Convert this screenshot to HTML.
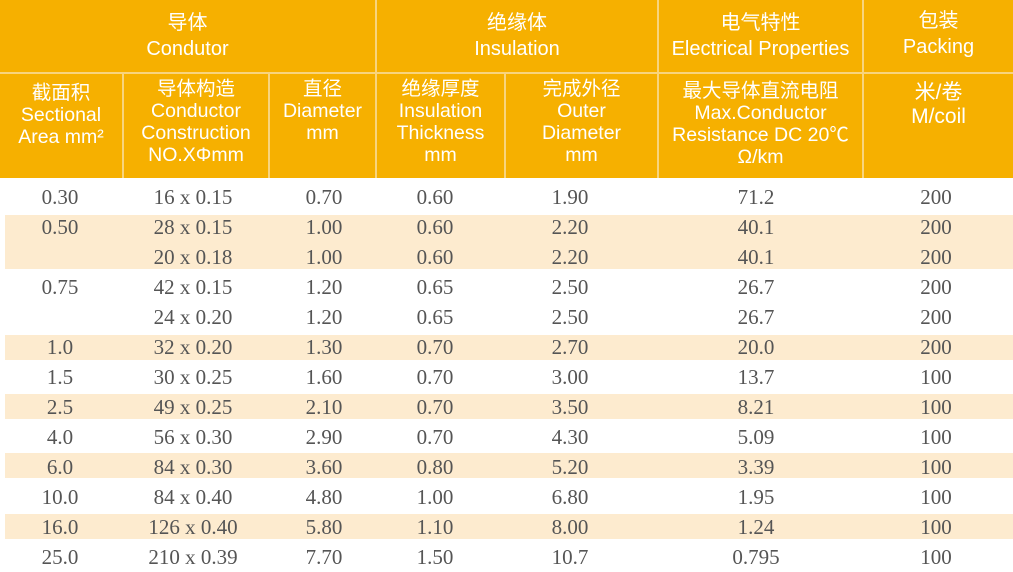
<!DOCTYPE html>
<html><head><meta charset="utf-8"><style>
html,body{margin:0;padding:0;background:#fff;}
body{width:1013px;height:571px;position:relative;overflow:hidden;}
.h{position:absolute;background:#F6B000;}
.l{position:absolute;background:#F8D47E;}
.t{position:absolute;color:#fff;font-family:"Liberation Sans","Noto Sans CJK SC",sans-serif;font-size:19.5px;text-align:center;line-height:22px;}
.band{position:absolute;left:5px;width:1008px;background:#FDEBCF;}
.d{position:absolute;font-family:"Liberation Serif","DejaVu Serif",serif;font-size:21px;color:#555;text-align:center;width:200px;line-height:30px;}
</style></head><body>
<div class="h" style="left:0;top:0;width:1013px;height:178px"></div>
<div class="l" style="left:0;top:72px;width:1013px;height:2px"></div>
<div class="l" style="left:375px;top:0;width:2px;height:178px"></div>
<div class="l" style="left:657px;top:0;width:2px;height:178px"></div>
<div class="l" style="left:862px;top:0;width:2px;height:178px"></div>
<div class="l" style="left:122px;top:72px;width:2px;height:106px"></div>
<div class="l" style="left:268px;top:72px;width:2px;height:106px"></div>
<div class="l" style="left:504px;top:72px;width:2px;height:106px"></div>

<div class="t" style="left:0;width:375px;top:10px;font-size:20px;line-height:26px">导体<br>Condutor</div>
<div class="t" style="left:377px;width:280px;top:10px;font-size:20px;line-height:26px">绝缘体<br>Insulation</div>
<div class="t" style="left:659px;width:203px;top:10px;font-size:20px;line-height:26px">电气特性<br>Electrical Properties</div>
<div class="t" style="left:864px;width:149px;top:8px;font-size:20px;line-height:26px">包装<br>Packing</div>

<div class="t" style="left:0;width:122px;top:82px">截面积<br>Sectional<br>Area mm²</div>
<div class="t" style="left:124px;width:144px;top:78px">导体构造<br>Conductor<br>Construction<br>NO.XΦmm</div>
<div class="t" style="left:270px;width:105px;top:78px">直径<br>Diameter<br>mm</div>
<div class="t" style="left:377px;width:127px;top:78px">绝缘厚度<br>Insulation<br>Thickness<br>mm</div>
<div class="t" style="left:506px;width:151px;top:78px">完成外径<br>Outer<br>Diameter<br>mm</div>
<div class="t" style="left:659px;width:203px;top:80px">最大导体直流电阻<br>Max.Conductor<br>Resistance DC 20℃<br>Ω/km</div>
<div class="t" style="left:864px;width:149px;top:81px;font-size:21px;line-height:24px">米/卷<br>M/coil</div>

<div class="band" style="top:215px;height:54px"></div>
<div class="band" style="top:335px;height:25px;left:5px"></div>
<div class="band" style="top:394px;height:25px"></div>
<div class="band" style="top:453px;height:25px"></div>
<div class="band" style="top:514px;height:25px"></div>

<div id="rows"></div>
<script>
var r=[["0.30","16 x 0.15","0.70","0.60","1.90","71.2","200"],
["0.50","28 x 0.15","1.00","0.60","2.20","40.1","200"],
["","20 x 0.18","1.00","0.60","2.20","40.1","200"],
["0.75","42 x 0.15","1.20","0.65","2.50","26.7","200"],
["","24 x 0.20","1.20","0.65","2.50","26.7","200"],
["1.0","32 x 0.20","1.30","0.70","2.70","20.0","200"],
["1.5","30 x 0.25","1.60","0.70","3.00","13.7","100"],
["2.5","49 x 0.25","2.10","0.70","3.50","8.21","100"],
["4.0","56 x 0.30","2.90","0.70","4.30","5.09","100"],
["6.0","84 x 0.30","3.60","0.80","5.20","3.39","100"],
["10.0","84 x 0.40","4.80","1.00","6.80","1.95","100"],
["16.0","126 x 0.40","5.80","1.10","8.00","1.24","100"],
["25.0","210 x 0.39","7.70","1.50","10.7","0.795","100"]];
var cx=[60,193,324,435,570,756,936],h="";
for(var i=0;i<r.length;i++)for(var j=0;j<7;j++)h+='<div class="d" style="left:'+(cx[j]-100)+'px;top:'+(182+i*30)+'px">'+r[i][j]+'</div>';
document.getElementById("rows").innerHTML=h;
</script>
</body></html>
